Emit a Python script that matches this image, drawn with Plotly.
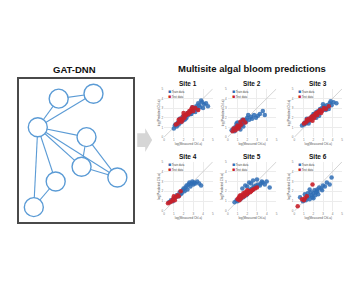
import plotly.graph_objects as go

W, H = 360, 290
FONT = "Liberation Sans, Arial, sans-serif"
BLUE = "#2f6db5"
RED = "#c8202a"
NODE = "#5b9bd5"

# ---------------- network (GAT-DNN) ----------------
node_names = ["A", "B", "C", "D", "E", "F", "G", "H"]
node_x = [58, 93, 37, 86, 81, 117, 55, 33]
node_y = [98, 93, 127, 137, 167, 178, 182, 208]
edges = [("A", "B"), ("B", "C"), ("A", "C"), ("C", "D"), ("C", "F"), ("C", "E"),
         ("D", "F"), ("D", "E"), ("E", "F"), ("C", "H"), ("G", "C"), ("G", "H")]

# ---------------- scatter data ----------------
sites = ["Site 1", "Site 2", "Site 3", "Site 4", "Site 5", "Site 6"]
series_names = ["Train data", "Test data"]
axis_range = [0, 5]
tick_vals = [0, 1, 2, 3, 4, 5]

b1x = [1.0,1.1,1.3,1.4,1.5,1.6,1.7,1.8,1.9,2.0,2.1,2.2,2.3,2.4,2.5,2.6,2.7,2.8,2.9,3.0,3.1,3.2,3.3,3.4,3.6,3.7,3.9,4.1,4.3,4.5,1.2,1.9,2.4,2.9,3.5,1.6,2.2,2.8,3.2,3.8,4.0]
b1y = [0.9,1.2,1.1,1.5,1.3,1.6,1.5,1.9,1.7,2.0,1.8,2.2,2.0,2.4,2.3,2.6,2.4,2.7,2.6,2.9,2.8,3.0,3.2,2.9,3.3,3.1,3.6,3.4,3.5,3.2,1.3,2.1,2.5,3.1,3.5,1.9,1.9,2.4,2.6,3.8,3.0]
r1x = [1.2,1.4,1.6,1.7,1.9,2.0,2.1,2.3,2.4,2.5,2.7,2.8,3.0,3.2,3.5,1.8,2.2,2.6,1.5,2.0,2.9]
r1y = [1.3,1.4,1.7,1.9,1.8,2.2,2.0,2.3,2.5,2.4,2.6,2.9,2.7,3.0,2.8,1.6,2.3,2.7,1.8,2.5,3.1]

b2x = [0.4,0.6,0.7,0.8,0.9,1.0,1.1,1.2,1.3,1.4,1.5,1.6,1.7,1.8,1.9,2.0,2.2,2.4,2.5,2.7,2.9,3.1,3.3,3.6,3.8,1.0,1.3,1.6,2.1,0.9,1.5]
b2y = [0.7,0.9,0.6,1.1,0.9,1.2,1.0,1.4,1.2,1.5,1.3,1.7,1.5,1.8,1.6,2.0,1.8,2.1,1.9,2.3,2.0,2.2,2.4,2.7,2.3,1.5,0.8,1.1,2.3,1.4,1.8]
r2x = [0.5,0.6,0.8,0.9,1.0,1.1,1.2,1.4,1.6,1.8,1.3]
r2y = [0.6,0.9,0.7,1.0,1.2,0.9,1.1,1.3,1.8,1.5,1.6]

b3x = [0.8,1.0,1.1,1.2,1.4,1.5,1.6,1.7,1.8,1.9,2.0,2.1,2.2,2.3,2.4,2.5,2.6,2.7,2.8,2.9,3.0,3.1,3.2,3.4,3.5,3.7,3.9,4.1,4.4,1.3,2.0,2.6,3.3,3.8,1.5,2.3,3.0,3.6]
b3y = [1.2,1.3,1.5,1.4,1.6,1.8,1.7,2.0,1.9,2.2,2.0,2.4,2.2,2.6,2.3,2.7,2.5,2.9,2.7,3.0,2.8,3.2,3.0,3.3,3.1,3.5,3.3,3.6,3.5,1.9,2.4,2.2,2.8,3.7,1.4,2.0,3.4,2.9]
r3x = [1.0,1.2,1.4,1.5,1.7,1.8,2.0,2.1,2.3,2.4,2.6,2.7,2.9,3.1,3.3,3.6,1.9,2.5,1.3,2.2,2.8]
r3y = [1.4,1.5,1.7,1.9,1.8,2.1,2.2,2.0,2.5,2.3,2.6,2.8,2.7,3.0,2.9,3.2,1.7,2.6,1.8,2.4,2.5]

b4x = [0.5,0.7,0.9,1.0,1.2,1.3,1.5,1.6,1.8,1.9,2.0,2.1,2.2,2.4,2.5,2.6,2.7,2.8,2.9,3.0,3.1,3.2,3.4,3.6,3.8,2.3,1.7]
b4y = [0.9,1.1,1.0,1.3,1.4,1.6,1.5,1.9,1.8,2.1,2.3,2.0,2.4,2.2,2.7,2.9,2.5,2.8,3.0,2.7,2.9,2.8,3.0,2.8,2.6,2.6,1.7]
r4x = [0.4,0.6,0.8,0.9,1.1,1.2,1.4,1.5,1.0,1.7]
r4y = [0.8,0.9,1.0,1.2,1.1,1.4,1.6,1.5,1.5,2.0]

b5x = [0.7,0.9,1.0,1.2,1.3,1.5,1.6,1.8,1.9,2.0,2.1,2.2,2.3,2.4,2.5,2.6,2.7,2.8,2.9,3.0,3.1,3.3,3.4,3.6,3.8,4.0,4.3,1.5,1.8,2.2,2.6,3.0,3.5,2.0,2.4]
b5y = [0.9,1.1,1.0,1.3,1.2,1.5,1.4,1.7,1.6,1.9,1.8,2.0,2.2,2.1,2.3,2.2,2.5,2.4,2.6,2.5,2.7,2.6,2.8,2.9,2.7,3.0,2.4,2.3,2.6,2.9,3.1,3.2,3.0,2.5,2.8]
r5x = [1.0,1.1,1.2,1.3,1.4,1.5,1.6,1.7,1.8,1.9,2.0,2.1,2.2,2.3,2.5,2.6,2.8,3.0,1.3,1.6,2.0,1.2,1.8,2.4]
r5y = [1.2,1.3,1.1,1.4,1.3,1.5,1.6,1.5,1.7,1.8,1.7,1.9,2.0,1.9,2.1,2.2,2.3,2.4,1.6,1.8,2.1,1.5,1.9,2.0]

b6x = [0.6,0.9,1.1,1.3,1.4,1.5,1.6,1.7,1.8,1.9,2.0,2.1,2.2,2.3,2.4,2.5,2.6,2.8,3.0,3.2,3.4,3.7,3.9,1.6,2.0,2.4,1.2,2.9]
b6y = [1.4,1.0,1.7,1.3,1.8,1.5,1.2,1.9,1.6,1.4,1.8,2.1,1.6,1.9,2.2,1.7,2.4,2.3,2.6,2.5,2.9,2.7,3.4,2.2,1.3,2.0,1.1,2.1]
r6x = [0.35,0.8,1.0,1.1,1.3,1.9]
r6y = [0.5,1.2,1.1,1.3,1.5,2.7]

train = [(b1x, b1y), (b2x, b2y), (b3x, b3y), (b4x, b4y), (b5x, b5y), (b6x, b6y)]
test = [(r1x, r1y), (r2x, r2y), (r3x, r3y), (r4x, r4y), (r5x, r5y), (r6x, r6y)]

# ---------------- layout helpers ----------------
def px(x):
    return x / W

def py(y):
    return 1 - y / H

col_px = [(164, 213), (228, 277), (295, 343)]
row_px = [(88, 137), (162, 212)]
title_row_px = [83, 157]

fig = go.Figure()
layout = dict(
    width=W, height=H, margin=dict(l=0, r=0, t=0, b=0),
    paper_bgcolor="white", plot_bgcolor="white", showlegend=False,
    font=dict(family=FONT, color="#222"),
)
annotations = []
shapes = []

for i, name in enumerate(sites):
    r, c = divmod(i, 3)
    k = i + 1
    xa = "x" if k == 1 else f"x{k}"
    ya = "y" if k == 1 else f"y{k}"
    xd = [px(col_px[c][0]), px(col_px[c][1])]
    yd = [py(row_px[r][1]), py(row_px[r][0])]
    ax_common = dict(range=axis_range, tickvals=tick_vals, showgrid=True, gridcolor="#ececec",
                     gridwidth=0.5, zeroline=False, showline=False, ticks="",
                     tickfont=dict(size=3, color="#777"), ticklen=0, fixedrange=True)
    layout["xaxis" if k == 1 else f"xaxis{k}"] = dict(
        domain=xd, anchor=ya, title=dict(text="log(Measured Chl-a)", font=dict(size=3, color="#555"), standoff=1),
        **ax_common)
    layout["yaxis" if k == 1 else f"yaxis{k}"] = dict(
        domain=yd, anchor=xa, title=dict(text="log(Predicted Chl-a)", font=dict(size=3, color="#555"), standoff=1),
        **ax_common)
    # 1:1 line
    fig.add_trace(go.Scatter(x=axis_range, y=axis_range, mode="lines", xaxis=xa, yaxis=ya,
                             line=dict(color="#c8c8c8", width=0.8), hoverinfo="skip"))
    fig.add_trace(go.Scatter(x=train[i][0], y=train[i][1], mode="markers", xaxis=xa, yaxis=ya,
                             name=series_names[0],
                             marker=dict(color=BLUE, size=4.5, opacity=0.85, line=dict(width=0))))
    fig.add_trace(go.Scatter(x=test[i][0], y=test[i][1], mode="markers", xaxis=xa, yaxis=ya,
                             name=series_names[1],
                             marker=dict(color=RED, size=4.5, opacity=0.9, line=dict(width=0))))
    annotations.append(dict(text=f"<b>{name}</b>", x=(xd[0] + xd[1]) / 2, y=py(title_row_px[r]),
                            xref="paper", yref="paper", showarrow=False,
                            xanchor="center", yanchor="middle",
                            font=dict(size=6.5, color="#111", family=FONT)))
    for j, (sname, col) in enumerate(zip(series_names, [BLUE, RED])):
        annotations.append(dict(
            text=f"<span style='color:{col};font-size:5px'>■</span> {sname}",
            x=0.04, y=0.95 - j * 0.09, xref=f"{xa} domain", yref=f"{ya} domain",
            xanchor="left", yanchor="middle", showarrow=False,
            font=dict(size=2.8, color="#444", family=FONT)))

# network panel axis
ex, ey = [], []
idx = {n: i for i, n in enumerate(node_names)}
for a, b in edges:
    ex += [node_x[idx[a]], node_x[idx[b]], None]
    ey += [node_y[idx[a]], node_y[idx[b]], None]
fig.add_trace(go.Scatter(x=ex, y=ey, mode="lines", xaxis="x7", yaxis="y7",
                         line=dict(color=NODE, width=1.1), hoverinfo="skip"))
fig.add_trace(go.Scatter(x=node_x, y=node_y, mode="markers", xaxis="x7", yaxis="y7",
                         marker=dict(size=19, color="white", line=dict(color=NODE, width=1.4))))
layout["xaxis7"] = dict(domain=[px(18), px(133)], range=[18, 133], anchor="y7",
                        showgrid=False, zeroline=False, showticklabels=False, ticks="",
                        showline=True, mirror=True, linecolor="#4a4a4a", linewidth=2)
layout["yaxis7"] = dict(domain=[py(223), py(78)], range=[223, 78], anchor="x7",
                        showgrid=False, zeroline=False, showticklabels=False, ticks="",
                        showline=True, mirror=True, linecolor="#4a4a4a", linewidth=2)

annotations.append(dict(text="<b>GAT-DNN</b>", x=px(74), y=py(68), xref="paper", yref="paper",
                        xanchor="center", yanchor="middle",
                        showarrow=False, font=dict(size=9.5, color="#111", family=FONT)))
annotations.append(dict(text="<b>Multisite algal bloom predictions</b>", x=px(252), y=py(67),
                        xref="paper", yref="paper", showarrow=False,
                        xanchor="center", yanchor="middle",
                        font=dict(size=9.5, color="#111", family=FONT)))

# block arrow
pts = [(137, 133), (145, 133), (145, 128), (152, 140), (145, 152), (145, 147), (137, 147)]
path = "M " + " L ".join(f"{px(x):.4f},{py(y):.4f}" for x, y in pts) + " Z"
shapes.append(dict(type="path", path=path, xref="paper", yref="paper",
                   fillcolor="#d6d6d6", line=dict(width=0)))

layout["annotations"] = annotations
layout["shapes"] = shapes
fig.update_layout(**layout)
fig.write_html("out.html")
